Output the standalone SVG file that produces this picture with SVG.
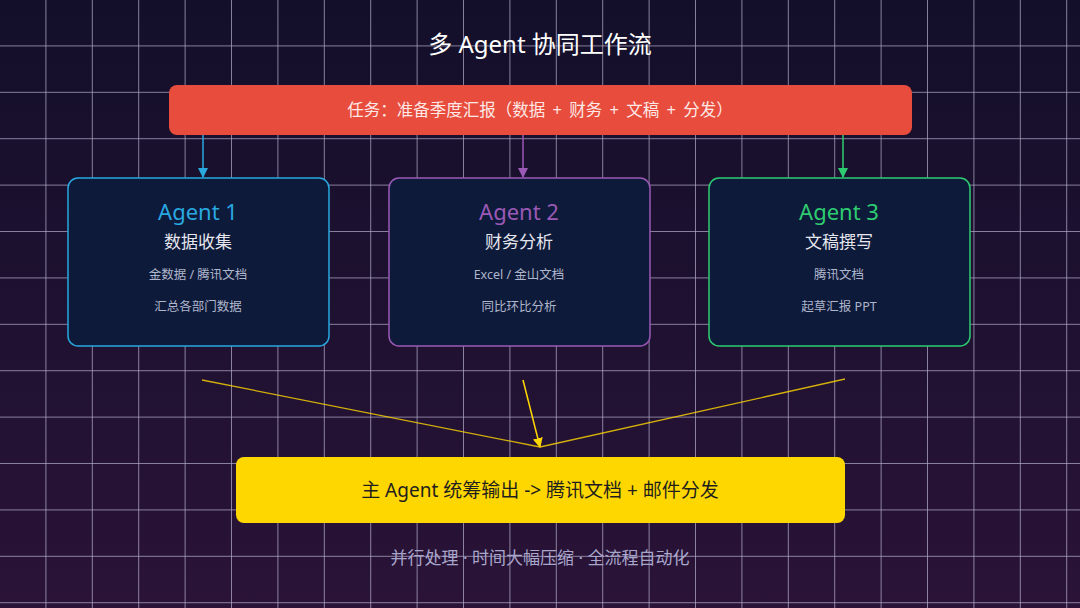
<svg xmlns="http://www.w3.org/2000/svg" width="1080" height="608" viewBox="0 0 1080 608">
<defs>
<linearGradient id="bg" x1="0" y1="0" x2="0" y2="1">
<stop offset="0" stop-color="#130f2a"/>
<stop offset="1" stop-color="#2a1337"/>
</linearGradient>
<pattern id="grid" x="0" y="0" width="46.4" height="46.4" patternUnits="userSpaceOnUse">
<path d="M46.4 0V46.4M0 46.4H46.4" fill="none" stroke="#c6bedc" stroke-width="1.5" stroke-opacity="0.85"/>
</pattern>
<marker id="ab" markerWidth="10" markerHeight="10" refX="9" refY="5" orient="auto" markerUnits="userSpaceOnUse"><path d="M0,0 L10,5 L0,10 Z" fill="#29a8e0"/></marker>
<marker id="ap" markerWidth="10" markerHeight="10" refX="9" refY="5" orient="auto" markerUnits="userSpaceOnUse"><path d="M0,0 L10,5 L0,10 Z" fill="#9b59b6"/></marker>
<marker id="ag" markerWidth="10" markerHeight="10" refX="9" refY="5" orient="auto" markerUnits="userSpaceOnUse"><path d="M0,0 L10,5 L0,10 Z" fill="#2ecc71"/></marker>
<marker id="ay" markerWidth="10" markerHeight="10" refX="9" refY="5" orient="auto" markerUnits="userSpaceOnUse"><path d="M0,0 L10,5 L0,10 Z" fill="#ffd700"/></marker>
</defs>
<style>
text{font-family:"Noto Sans","Noto Sans CJK SC",sans-serif;text-anchor:middle}
.agent{fill:#0e1a3a;stroke-width:1.5}
.an{font-size:22px}
.at{font-size:17px;fill:#e6e6ee}
.ad{font-size:12.5px;fill:#aeb6cc}
.c{fill:none;stroke-width:1.5}
</style>
<rect width="1080" height="608" fill="url(#bg)"/>
<rect width="1080" height="608" fill="url(#grid)"/>
<text x="540" y="53" font-size="24" fill="#ffffff">多 Agent 协同工作流</text>
<g id="task">
<rect x="169" y="85" width="743" height="50" rx="8" fill="#e74c3c"/>
<text x="540" y="116" font-size="16.5" word-spacing="3" fill="#fde8e6">任务：准备季度汇报（数据 + 财务 + 文稿 + 分发）</text>
</g>
<g id="connectors">
<line class="c" x1="203" y1="135" x2="203" y2="177" stroke="#29a8e0" marker-end="url(#ab)"/>
<line class="c" x1="523" y1="135" x2="523" y2="177" stroke="#9b59b6" marker-end="url(#ap)"/>
<line class="c" x1="843" y1="135" x2="843" y2="177" stroke="#2ecc71" marker-end="url(#ag)"/>
<line x1="202" y1="380" x2="540" y2="447" stroke="#ffd700" stroke-width="1.3" stroke-opacity="0.8"/>
<line x1="845" y1="379" x2="540" y2="447" stroke="#ffd700" stroke-width="1.3" stroke-opacity="0.8"/>
<line x1="523" y1="380" x2="540" y2="447" stroke="#ffd700" stroke-width="1.5" marker-end="url(#ay)"/>
</g>
<g id="agent1">
<rect class="agent" x="68" y="178" width="261" height="168" rx="10" stroke="#29a8e0"/>
<text class="an" x="198" y="220" fill="#29a8e0">Agent 1</text>
<text class="at" x="198" y="248">数据收集</text>
<text class="ad" x="198" y="279">金数据 / 腾讯文档</text>
<text class="ad" x="198" y="311">汇总各部门数据</text>
</g>
<g id="agent2">
<rect class="agent" x="389" y="178" width="261" height="168" rx="10" stroke="#9b59b6"/>
<text class="an" x="519" y="220" fill="#9b59b6">Agent 2</text>
<text class="at" x="519" y="248">财务分析</text>
<text class="ad" x="519" y="279">Excel / 金山文档</text>
<text class="ad" x="519" y="311">同比环比分析</text>
</g>
<g id="agent3">
<rect class="agent" x="709" y="178" width="261" height="168" rx="10" stroke="#2ecc71"/>
<text class="an" x="839" y="220" fill="#2ecc71">Agent 3</text>
<text class="at" x="839" y="248">文稿撰写</text>
<text class="ad" x="839" y="279">腾讯文档</text>
<text class="ad" x="839" y="311">起草汇报 PPT</text>
</g>
<g id="main">
<rect x="236" y="457" width="609" height="66" rx="8" fill="#ffd700"/>
<text x="540" y="497" font-size="19" fill="#1e1e1e">主 Agent 统筹输出 -&gt; 腾讯文档 + 邮件分发</text>
</g>
<text x="540" y="564" font-size="17" fill="#a9a6cc">并行处理 · 时间大幅压缩 · 全流程自动化</text>
</svg>
